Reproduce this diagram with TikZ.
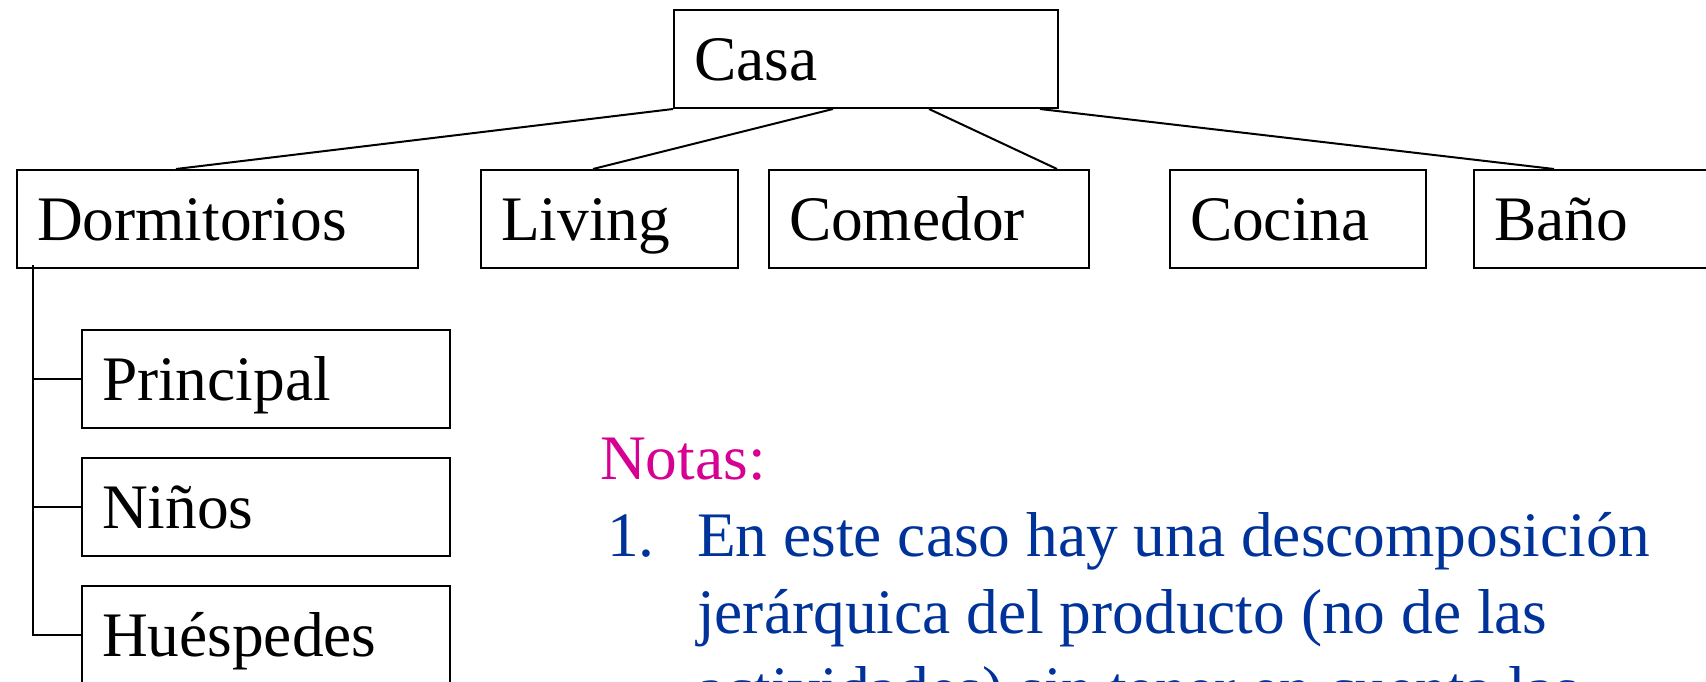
\documentclass[tikz,border=0pt]{standalone}
\usepackage{fontspec}
\setmainfont{Liberation Serif}
\usetikzlibrary{calc}
\definecolor{notemag}{RGB}{214,0,147}
\definecolor{noteblue}{RGB}{0,51,153}
\tikzset{
  box/.style={draw, line width=2pt, rectangle, anchor=north west, inner xsep=20pt, inner ysep=0pt,
    minimum height=98pt, text height=43pt, text depth=0pt, align=left,
    font=\fontsize{63.4}{76}\selectfont},
  link/.style={line width=2pt},
  note/.style={anchor=base west, inner sep=0pt, font=\fontsize{63.4}{77}\selectfont}
}
\begin{document}
\begin{tikzpicture}[x=1pt,y=-1pt]
\useasboundingbox (0,0) rectangle (1706,681);
% top level
\node[box, text width=344pt] (casa) at (673,9) {Casa};
% second level
\node[box, text width=361pt] (dorm) at (16,169) {Dormitorios};
\node[box, text width=217pt] (living) at (480,169) {Living};
\node[box, text width=280pt] (comedor) at (768,169) {Comedor};
\node[box, text width=216pt] (cocina) at (1169,169) {Cocina};
\node[box, text width=300pt] (bano) at (1473,169) {Baño};
% third level
\node[box, text width=328pt] (princ) at (81,329) {Principal};
\node[box, text width=328pt] (ninos) at (81,457) {Niños};
\node[box, text width=328pt] (huesp) at (81,585) {Huéspedes};
% connectors from Casa
\draw[link] (casa.south west) -- ([xshift=160pt]dorm.north west);
\draw[link] ([xshift=160pt]casa.south west) -- ([xshift=113pt]living.north west);
\draw[link] ([xshift=256pt]casa.south west) -- ([xshift=289pt]comedor.north west);
\draw[link] ([xshift=367pt]casa.south west) -- ([xshift=81pt]bano.north west);
% tree under Dormitorios
\coordinate (trunk) at ([xshift=17pt,yshift=4pt]dorm.south west);
\draw[link] (trunk) |- (huesp.west);
\draw[link] (trunk |- princ.west) -- (princ.west);
\draw[link] (trunk |- ninos.west) -- (ninos.west);
% notes
\node[note, text=notemag] (notas) at (600,479) {Notas:};
\node[note, text=noteblue] (num1) at (607,556) {1.};
\node[note, text=noteblue] (l1) at (697,556) {En este caso hay una descomposición};
\node[note, text=noteblue] (l2) at (697,633) {jerárquica del producto (no de las};
\node[note, text=noteblue] (l3) at (697,710) {actividades) sin tener en cuenta las};
\end{tikzpicture}
\end{document}
